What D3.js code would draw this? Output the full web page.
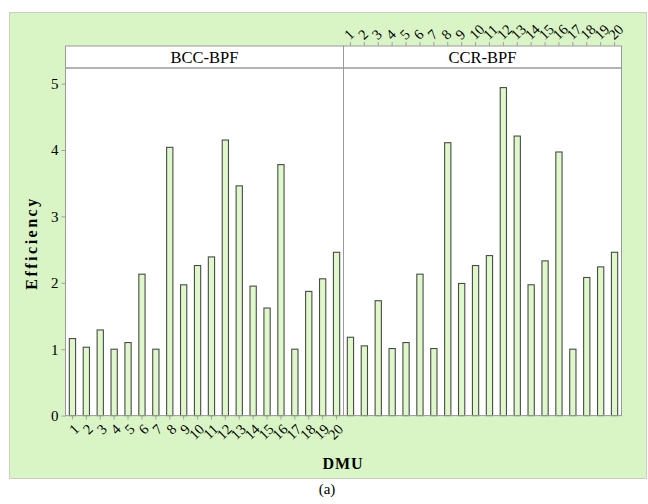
<!DOCTYPE html>
<html>
<head>
<meta charset="utf-8">
<script src="https://cdn.jsdelivr.net/npm/d3@7"></script>
<style>
  body { margin: 0; background: #fff; }
  svg text { font-family: "Times New Roman", "Liberation Serif", Times, serif !important; fill: #000; }
</style>
</head>
<body>
<svg id="chart" width="648" height="504"></svg>
<script>
// values
const dmuLabels = ["1","2","3","4","5","6","7","8","9","10","11","12","13","14","15","16","17","18","19","20"];
const bccBpf = [1.16, 1.03, 1.29, 1.00, 1.10, 2.13, 1.00, 4.04, 1.97, 2.26, 2.39, 4.15, 3.46, 1.95, 1.62, 3.78, 1.00, 1.87, 2.06, 2.46];
const ccrBpf = [1.18, 1.05, 1.73, 1.01, 1.10, 2.13, 1.01, 4.11, 1.99, 2.26, 2.41, 4.94, 4.21, 1.97, 2.33, 3.97, 1.00, 2.08, 2.24, 2.46];
const panelNames = ["BCC-BPF", "CCR-BPF"];
const yTicks = [0, 1, 2, 3, 4, 5];

const panels = [
    {name: panelNames[0], values: bccBpf},
    {name: panelNames[1], values: ccrBpf}
];

const svg = d3.select("#chart");

const plotTop = 68, plotBottom = 415.6, stripTop = 46;
const panelX = d3.scaleBand().domain(panelNames).range([65.5, 621.5]);
const x = d3.scaleBand().domain(dmuLabels).range([0, panelX.bandwidth()])
    .paddingInner(0.55).paddingOuter(0.275);
const y = d3.scaleLinear().domain([0, 5.235]).range([plotBottom, plotTop]);

// green background
svg.append("rect")
    .attr("x", 9.5).attr("y", 12.5)
    .attr("width", 637).attr("height", 466)
    .style("fill", "#d9f5c6")
    .style("stroke", "#c9cfc4");

const g = svg.selectAll("g.panel")
    .data(panels)
    .join("g")
    .attr("class", "panel")
    .attr("transform", d => `translate(${panelX(d.name)},0)`);

g.append("rect")
    .attr("x", 0).attr("y", plotTop)
    .attr("width", panelX.bandwidth()).attr("height", plotBottom - plotTop)
    .style("fill", "#fff");

// strip
g.append("rect")
    .attr("x", 0).attr("y", stripTop)
    .attr("width", panelX.bandwidth()).attr("height", plotTop - stripTop)
    .style("fill", "#fff")
    .style("stroke", "#9a9a9a");

g.append("text")
    .attr("x", panelX.bandwidth() / 2).attr("y", 63)
    .attr("text-anchor", "middle")
    .style("font-size", "16.5px")
    .text(d => d.name);

g.selectAll("rect.bar")
    .data(d => d.values.map((v, i) => ({k: dmuLabels[i], v})))
    .join("rect")
    .attr("class", "bar")
    .attr("x", d => x(d.k))
    .attr("width", x.bandwidth())
    .attr("y", d => y(d.v))
    .attr("height", d => y(0) - y(d.v))
    .style("fill", "#dff8ca")
    .style("stroke", "#4a4a4a")
    .style("stroke-width", 1.1);

g.append("rect")
    .attr("x", 0).attr("y", plotTop)
    .attr("width", panelX.bandwidth()).attr("height", plotBottom - plotTop)
    .style("fill", "none")
    .style("stroke", "#9a9a9a");

// y axis
const yAxis = svg.append("g")
    .attr("transform", `translate(${panelX(panelNames[0])},0)`)
    .call(d3.axisLeft(y).tickValues(yTicks).tickFormat(d3.format("d")).tickSize(4).tickPadding(3));
yAxis.select(".domain").remove();
yAxis.selectAll(".tick line").style("stroke", "#a0a0a0");
yAxis.selectAll(".tick text")
    .style("font-size", "15px");

// bottom axis on first panel
const xb = svg.append("g")
    .attr("transform", `translate(${panelX(panelNames[0])},${plotBottom})`)
    .call(d3.axisBottom(x).tickSize(4));
xb.select(".domain").remove();
xb.selectAll(".tick line").style("stroke", "#a0a0a0");
xb.selectAll(".tick text")
    .style("font-size", "14.5px")
    .attr("text-anchor", "end")
    .attr("x", 4).attr("y", 11).attr("dy", "0.35em")
    .attr("transform", "rotate(-45, 4, 11)");

// top axis on second panel
const xt = svg.append("g")
    .attr("transform", `translate(${panelX(panelNames[1])},${stripTop})`)
    .call(d3.axisTop(x).tickSize(4));
xt.select(".domain").remove();
xt.selectAll(".tick line").style("stroke", "#a0a0a0");
xt.selectAll(".tick text")
    .style("font-size", "14.5px")
    .attr("text-anchor", "start")
    .attr("x", -4).attr("y", -9).attr("dy", "0.35em")
    .attr("transform", "rotate(-45, -4, -9)");

// axis titles
svg.append("text")
    .attr("transform", "translate(37,243) rotate(-90)")
    .attr("text-anchor", "middle")
    .style("font-size", "16px")
    .style("font-weight", "bold")
    .style("letter-spacing", "2.5px")
    .text("Efficiency");

svg.append("text")
    .attr("x", 343).attr("y", 469)
    .attr("text-anchor", "middle")
    .style("font-size", "16px")
    .style("font-weight", "bold")
    .style("letter-spacing", "1px")
    .text("DMU");

svg.append("text")
    .attr("x", 327).attr("y", 494)
    .attr("text-anchor", "middle")
    .style("font-size", "15px")
    .text("(a)");
</script>
</body>
</html>
